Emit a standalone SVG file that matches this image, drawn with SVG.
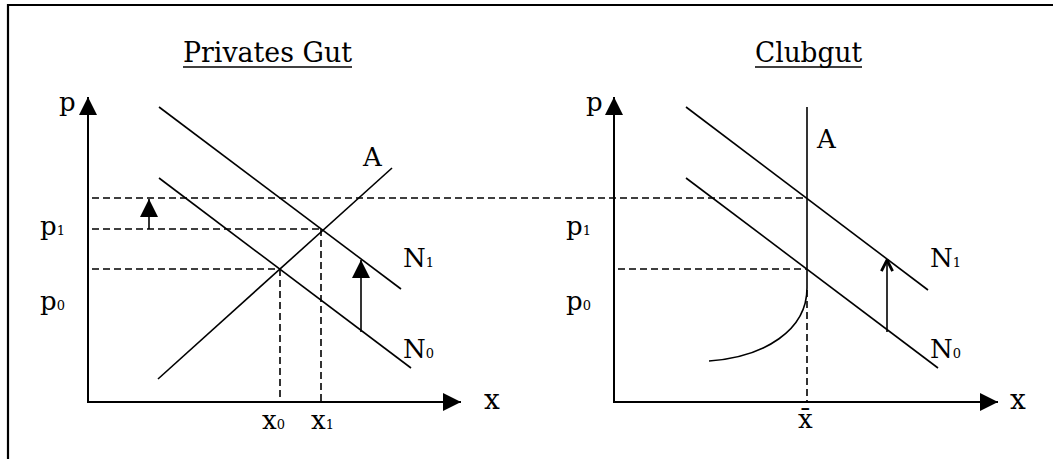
<svg xmlns="http://www.w3.org/2000/svg" width="1053" height="459" viewBox="0 0 1053 459">
<style>
.ln{stroke:#000;stroke-width:1.6;fill:none}
.ax{stroke:#000;stroke-width:2;fill:none}
.dash{stroke:#000;stroke-width:1.6;stroke-dasharray:7,4;fill:none}
.t{font-family:"DejaVu Serif","Liberation Serif",serif;fill:#000}
.title{font-size:27px}
.lab{font-size:26px}
.big{font-size:28px}
.sub{font-size:13px}
</style>
<defs>
<marker id="ah" viewBox="0 0 10 10" refX="10" refY="5" markerWidth="18" markerHeight="18" markerUnits="userSpaceOnUse" orient="auto"><path d="M0,0 L10,5 L0,10 Z" fill="#000"/></marker>
<marker id="ao" viewBox="0 0 10 10" refX="9" refY="5" markerWidth="14" markerHeight="14" markerUnits="userSpaceOnUse" orient="auto"><path d="M1,1 L9,5 L1,9" fill="none" stroke="#000" stroke-width="2"/></marker>
</defs>
<rect width="1053" height="459" fill="#fff"/>
<path d="M8,459 V5 H1053" stroke="#000" stroke-width="2.2" fill="none"/>

<g id="privates-gut">
  <text class="t title" x="183" y="62" textLength="169" lengthAdjust="spacingAndGlyphs">Privates Gut</text>
  <line x1="183" y1="67" x2="352" y2="67" stroke="#000" stroke-width="1.5"/>
  <g id="left-axes">
    <line class="ax" x1="88" y1="403" x2="88" y2="97" marker-end="url(#ah)"/>
    <line class="ax" x1="88" y1="402" x2="461" y2="402" marker-end="url(#ah)"/>
    <text class="t lab" x="59" y="111">p</text>
    <text class="t big" x="484" y="409">x</text>
  </g>
  <g id="left-curves">
    <line class="ln" x1="159" y1="107" x2="401" y2="289"/>
    <line class="ln" x1="159" y1="178" x2="411" y2="368"/>
    <line class="ln" x1="158" y1="379" x2="392" y2="168"/>
    <text class="t lab" x="363" y="166">A</text>
    <text class="t lab" x="403" y="267">N<tspan class="sub">1</tspan></text>
    <text class="t lab" x="403" y="358">N<tspan class="sub">0</tspan></text>
  </g>
  <g id="left-labels">
    <text class="t lab" x="40" y="235">p<tspan class="sub">1</tspan></text>
    <text class="t lab" x="40" y="310">p<tspan class="sub">0</tspan></text>
    <text class="t lab" x="262" y="429">x<tspan class="sub">0</tspan></text>
    <text class="t lab" x="311" y="429">x<tspan class="sub">1</tspan></text>
  </g>
</g>

<g id="clubgut">
  <text class="t title" x="755" y="62" textLength="107" lengthAdjust="spacingAndGlyphs">Clubgut</text>
  <line x1="755" y1="67" x2="862" y2="67" stroke="#000" stroke-width="1.5"/>
  <g id="right-axes">
    <line class="ax" x1="614" y1="403" x2="614" y2="97" marker-end="url(#ah)"/>
    <line class="ax" x1="614" y1="402" x2="998" y2="402" marker-end="url(#ah)"/>
    <text class="t lab" x="586" y="111">p</text>
    <text class="t big" x="1010" y="409">x</text>
  </g>
  <g id="right-curves">
    <line class="ln" x1="686" y1="107" x2="928" y2="290"/>
    <line class="ln" x1="686" y1="178" x2="938" y2="368"/>
    <line class="ln" x1="807" y1="107" x2="807" y2="288"/>
    <path class="ln" d="M709,361 C765,357 807,330 807,288"/>
    <text class="t lab" x="817" y="148">A</text>
    <text class="t lab" x="930" y="267">N<tspan class="sub">1</tspan></text>
    <text class="t lab" x="930" y="358">N<tspan class="sub">0</tspan></text>
  </g>
  <g id="right-labels">
    <text class="t lab" x="566" y="235">p<tspan class="sub">1</tspan></text>
    <text class="t lab" x="566" y="310">p<tspan class="sub">0</tspan></text>
    <text class="t lab" x="798" y="428">x̄</text>
  </g>
</g>

<g id="connectors">
  <line class="dash" x1="92" y1="198" x2="807" y2="198"/>
  <line class="dash" x1="92" y1="229" x2="321" y2="229"/>
  <line class="dash" x1="92" y1="269" x2="280" y2="269"/>
  <line class="dash" x1="280" y1="269" x2="280" y2="402"/>
  <line class="dash" x1="321" y1="229" x2="321" y2="402"/>
  <line class="dash" x1="618" y1="269" x2="807" y2="269"/>
  <line class="dash" x1="807" y1="290" x2="807" y2="402"/>
  <line class="ln" x1="149" y1="229" x2="149" y2="199" marker-end="url(#ah)"/>
  <line class="ln" x1="361" y1="332" x2="361" y2="260" marker-end="url(#ah)"/>
  <line class="ln" x1="887" y1="332" x2="887" y2="260" marker-end="url(#ao)"/>
</g>
</svg>
